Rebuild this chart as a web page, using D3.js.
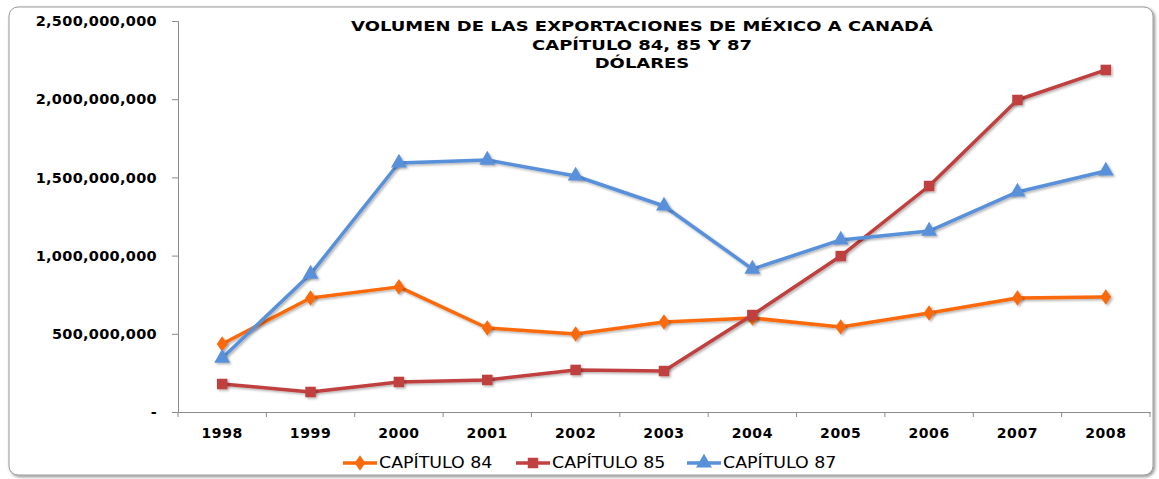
<!DOCTYPE html>
<html>
<head>
<meta charset="utf-8">
<script src="https://cdn.jsdelivr.net/npm/d3@7"></script>
<style>
  html, body { margin: 0; padding: 0; background: #fff; }
  svg { display: block; }
</style>
</head>
<body>
<svg id="chart" width="1159" height="479"></svg>
<script>
// Exportaciones de México a Canadá, capítulos 84, 85 y 87 (dólares)
const years = ["1998","1999","2000","2001","2002","2003","2004","2005","2006","2007","2008"];
const cap84 = [435e6, 729e6, 800e6, 537e6, 499e6, 575e6, 601e6, 543e6, 633e6, 729e6, 735e6];
const cap85 = [179e6, 128e6, 192e6, 205e6, 269e6, 262e6, 620e6, 997e6, 1445e6, 1995e6, 2187e6];
const cap87 = [345e6, 882e6, 1592e6, 1611e6, 1509e6, 1317e6, 914e6, 1100e6, 1157e6, 1407e6, 1541e6];
const yTicks = [0, 500e6, 1000e6, 1500e6, 2000e6, 2500e6];
const titleLines = ["VOLUMEN DE LAS EXPORTACIONES DE MÉXICO A CANADÁ", "CAPÍTULO 84, 85 Y 87", "DÓLARES"];

const series = [
  { name: "CAPÍTULO 84", values: cap84, color: "#FA6A0A", marker: "diamond" },
  { name: "CAPÍTULO 85", values: cap85, color: "#C0413F", marker: "square" },
  { name: "CAPÍTULO 87", values: cap87, color: "#5990DA", marker: "triangle" }
];

const svg = d3.select("#chart");
const plot = { left: 178, right: 1150, top: 21, bottom: 412 };
const FONT = "DejaVu Sans, Verdana, sans-serif";

const defs = svg.append("defs");
const fr = defs.append("filter").attr("id", "frameShadow").attr("x", "-5%").attr("y", "-5%").attr("width", "110%").attr("height", "110%");
fr.append("feDropShadow").attr("dx", 1.5).attr("dy", 1.5).attr("stdDeviation", 1.5).attr("flood-color", "#000").attr("flood-opacity", 0.45);
const ms = defs.append("filter").attr("id", "markShadow").attr("x", "-50%").attr("y", "-50%").attr("width", "200%").attr("height", "200%");
ms.append("feDropShadow").attr("dx", 1.5).attr("dy", 1.5).attr("stdDeviation", 1).attr("flood-color", "#000").attr("flood-opacity", 0.3);

// chart frame
svg.append("rect")
  .attr("x", 9).attr("y", 7).attr("width", 1144).attr("height", 468)
  .attr("rx", 9).attr("ry", 9)
  .attr("fill", "#fff").attr("stroke", "#9a9a9a").attr("stroke-width", 1)
  .attr("filter", "url(#frameShadow)");

const x = d3.scaleBand().domain(years).range([plot.left, plot.right]);
const y = d3.scaleLinear().domain([0, 2500e6]).range([plot.bottom, plot.top]);

const axisColor = "#8c8c8c";
const fmt = d => d === 0 ? "-" : d3.format(",")(d);

// Y axis
const yAxis = svg.append("g")
  .attr("transform", `translate(${plot.left},0)`)
  .call(d3.axisLeft(y).tickValues(yTicks).tickFormat(fmt).tickSize(6).tickPadding(15));
yAxis.select(".domain").attr("stroke", axisColor);
yAxis.selectAll(".tick line").attr("stroke", axisColor);
yAxis.selectAll("text")
  .attr("font-family", FONT)
  .attr("font-weight", "bold").attr("font-size", 14.5).attr("letter-spacing", 0.3)
  .attr("fill", "#000");

// X axis
const xAxis = svg.append("g")
  .attr("transform", `translate(0,${plot.bottom})`)
  .call(d3.axisBottom(x).tickSize(0).tickPadding(16));
xAxis.select(".domain").attr("stroke", axisColor);
xAxis.selectAll("text")
  .attr("font-family", FONT)
  .attr("font-weight", "bold").attr("font-size", 14).attr("letter-spacing", 0.6)
  .attr("fill", "#000");
// category boundary ticks
const bounds = years.map(d => x(d)).concat([plot.right]);
xAxis.selectAll("line.bound").data(bounds).enter().append("line")
  .attr("class", "bound")
  .attr("x1", d => d).attr("x2", d => d)
  .attr("y1", 0).attr("y2", 5)
  .attr("stroke", axisColor);

// Title, slightly widened
const title = svg.append("g");
titleLines.forEach((t, i) => {
  title.append("text")
    .attr("transform", `translate(642,${31 + i * 18.5}) scale(1.24,1)`)
    .attr("text-anchor", "middle")
    .attr("font-family", FONT)
    .attr("font-weight", "bold").attr("font-size", 14.5)
    .attr("fill", "#000")
    .text(t);
});

// marker shapes
const symbolFor = {
  diamond: d3.symbol().type(d3.symbolDiamond).size(70),
  square: d3.symbol().type(d3.symbolSquare).size(110),
  triangle: d3.symbol().type(d3.symbolTriangle).size(110)
};

const cx = i => x(years[i]) + x.bandwidth() / 2;
const line = d3.line().x((d, i) => cx(i)).y(d => y(d));

series.forEach(s => {
  const g = svg.append("g");
  g.append("path")
    .attr("d", line(s.values))
    .attr("fill", "none")
    .attr("stroke", s.color)
    .attr("stroke-width", 3.5)
    .attr("stroke-linejoin", "round")
    .attr("filter", "url(#markShadow)");
  g.selectAll("path.mark").data(s.values).enter().append("path")
    .attr("class", "mark")
    .attr("d", symbolFor[s.marker])
    .attr("transform", (d, i) => `translate(${cx(i)},${y(d)})` + (s.marker === "diamond" ? " scale(1.2,1)" : ""))
    .attr("fill", s.color)
    .attr("filter", "url(#markShadow)");
});

// Legend
const legendPos = [343, 516, 687];
const legend = svg.append("g").attr("transform", "translate(0,463)");
series.forEach((s, i) => {
  const lg = legend.append("g").attr("transform", `translate(${legendPos[i]},0)`);
  lg.append("line").attr("x1", 0).attr("x2", 34).attr("y1", 0).attr("y2", 0)
    .attr("stroke", s.color).attr("stroke-width", 3.5);
  lg.append("path").attr("d", symbolFor[s.marker])
    .attr("transform", `translate(17,0)` + (s.marker === "diamond" ? " scale(1.2,1)" : ""))
    .attr("fill", s.color);
  lg.append("text").attr("transform", "translate(36,5) scale(1.16,1)")
    .attr("font-family", FONT)
    .attr("font-size", 15).attr("fill", "#000")
    .text(s.name);
});
</script>
</body>
</html>
